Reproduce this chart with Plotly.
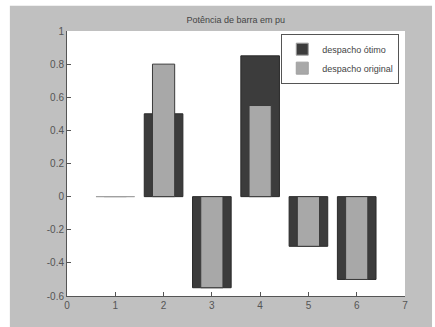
import plotly.graph_objects as go

barras = [1, 2, 3, 4, 5, 6]
despacho_otimo = [0.0, 0.5, -0.55, 0.85, -0.3, -0.5]
despacho_original = [0.0, 0.8, -0.55, 0.55, -0.3, -0.5]
x_ticks = [0, 1, 2, 3, 4, 5, 6, 7]
y_ticks = [-0.6, -0.4, -0.2, 0, 0.2, 0.4, 0.6, 0.8, 1]
y_labels = ["-0.6", "-0.4", "-0.2", "0", "0.2", "0.4", "0.6", "0.8", "1"]

otimo_edge = ["#a0a0a0" if v == 0 else "#2a2a2a" for v in despacho_otimo]
original_edge = ["#a0a0a0" if v == 0 else "#3a3a3a" for v in despacho_original]

fig = go.Figure()
fig.add_trace(go.Bar(
    x=barras, y=despacho_otimo, width=0.8, name="despacho ótimo",
    marker=dict(color="#3c3c3c", line=dict(color=otimo_edge, width=1)),
))
fig.add_trace(go.Bar(
    x=barras, y=despacho_original, width=0.46, name="despacho original",
    marker=dict(color="#a8a8a8", line=dict(color=original_edge, width=1)),
))

fig.update_layout(
    width=435, height=327,
    barmode="overlay",
    paper_bgcolor="white",
    plot_bgcolor="white",
    margin=dict(l=67, r=30, t=31, b=31),
    font=dict(family="Liberation Sans, Arial, sans-serif", size=10, color="#444444"),
    title=dict(text="Potência de barra em pu", x=0.542, xanchor="center",
               y=1 - 20 / 327, yanchor="middle", font=dict(size=9, color="#444444")),
    showlegend=True,
    legend=dict(x=0.983, xanchor="right", y=0.99, yanchor="top",
                bgcolor="white", bordercolor="#555555", borderwidth=1,
                font=dict(size=9, color="#444444"), tracegroupgap=0,
                itemwidth=30),
    xaxis=dict(range=[0, 7], tickvals=x_ticks, ticktext=[str(v) for v in x_ticks],
               showgrid=False, zeroline=False, showline=True, linecolor="#555555",
               linewidth=1, ticks="inside", ticklen=4, tickcolor="#555555",
               tickfont=dict(size=10, color="#555555")),
    yaxis=dict(range=[-0.6, 1], tickvals=y_ticks, ticktext=y_labels,
               showgrid=False, zeroline=False, showline=True, linecolor="#555555",
               linewidth=1, ticks="inside", ticklen=4, tickcolor="#555555",
               tickfont=dict(size=10, color="#555555")),
    shapes=[
        dict(type="rect", xref="paper", yref="paper", layer="below",
             x0=-0.169, x1=1.08, y0=-0.15, y1=1.095,
             fillcolor="#c0c0c0", line=dict(width=0)),
        dict(type="rect", xref="paper", yref="paper", layer="below",
             x0=0, x1=1, y0=0, y1=1,
             fillcolor="white", line=dict(width=0)),
    ],
)

fig.write_html("out.html", config={"displayModeBar": False},
               post_script="document.body.style.margin='0px';")
